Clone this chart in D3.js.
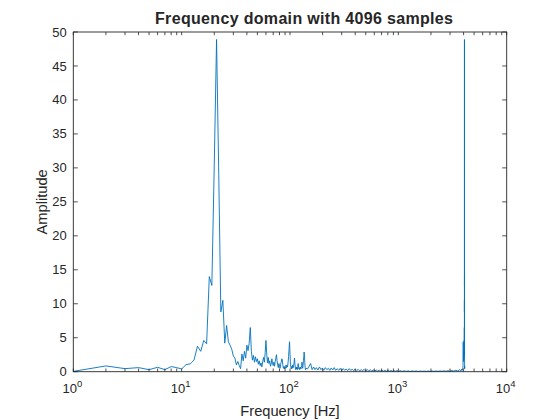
<!DOCTYPE html>
<html>
<head>
<meta charset="utf-8">
<script src="https://cdn.jsdelivr.net/npm/d3@7"></script>
<style>
  html, body { margin: 0; padding: 0; background: #fff; }
  svg { display: block; }
  text { font-family: "Liberation Sans", Arial, Helvetica, sans-serif; fill: #262626; }
</style>
</head>
<body>
<svg id="chart" width="560" height="420"></svg>
<script>
// ---- data ----
const titleText = "Frequency domain with 4096 samples";
const xLabelText = "Frequency [Hz]";
const yLabelText = "Amplitude";

const xTickExponents = [0, 1, 2, 3, 4];
const yTickValues = [0, 5, 10, 15, 20, 25, 30, 35, 40, 45, 50];

// low band: integer frequency bins 1..140 Hz
const freqLow = [1,2,3,4,5,6,7,8,9,10,11,12,13,14,15,16,17,18,19,20,
  21,22,23,24,25,26,27,28,29,30,31,32,33,34,35,36,37,38,39,40,
  41,42,43,44,45,46,47,48,49,50,51,52,53,54,55,56,57,58,59,60,
  61,62,63,64,65,66,67,68,69,70,71,72,73,74,75,76,77,78,79,80,
  81,82,83,84,85,86,87,88,89,90,91,92,93,94,95,96,97,98,99,100,
  101,102,103,104,105,106,107,108,109,110,111,112,113,114,115,116,117,118,119,120,
  121,122,123,124,125,126,127,128,129,130,131,132,133,134,135,136,137,138,139,140];
const ampLow = [0.05,0.85,0.45,0.6,0.3,0.65,0.3,0.75,0.6,0.4,1.05,1.15,1.7,3.75,3.0,4.6,4.1,14.0,12.7,30.5,
  48.9,29.0,8.8,10.5,4.2,6.8,4.4,3.9,3.3,2.3,2.0,1.0,1.5,0.9,0.45,2.6,1.6,3.0,2.0,3.9,
  3.1,4.2,6.5,3.0,1.7,2.4,1.4,2.2,1.5,1.9,1.1,1.6,0.9,1.3,0.7,1.5,2.1,1.4,2.8,4.6,
  2.6,1.3,2.1,1.2,1.6,0.8,1.1,1.9,1.3,0.9,1.4,0.8,1.5,2.0,2.5,1.6,1.0,0.6,1.2,0.8,
  0.5,1.1,1.4,1.9,1.7,0.9,0.5,0.8,0.4,0.7,0.5,1.0,0.6,0.9,0.7,1.4,2.2,3.3,4.4,2.6,
  1.1,0.6,0.4,0.8,0.5,1.0,0.6,0.9,1.3,2.0,1.2,0.5,0.3,0.7,0.4,0.6,0.3,0.8,1.2,0.7,
  0.4,0.6,0.3,0.5,0.7,0.4,0.6,0.9,1.4,0.8,0.5,0.9,1.6,2.2,2.9,2.4,1.3,0.6,0.3,0.5];

// middle band: noise floor 145 Hz .. 3900 Hz
const freqMid = [145,150,155,160,165,170,175,181,187,193,199,205,212,219,226,233,240,248,256,264,
  273,282,291,300,310,320,330,341,352,363,375,387,400,413,426,440,454,469,484,500,
  516,533,550,568,586,605,625,645,666,687,709,732,756,780,805,831,858,886,915,945,
  975,1000,1043,1088,1135,1184,1235,1288,1343,1401,1461,1524,1590,1658,1730,1804,1882,1963,2047,2135,
  2227,2323,2423,2527,2636,2750,2868,2991,3120,3254,3394,3540,3692,3780,3851,3900];
const ampMid = [0.4,0.8,1.2,0.3,0.7,0.3,0.6,0.25,0.7,0.3,0.55,0.2,0.6,0.3,0.5,0.2,0.55,0.25,0.6,0.2,
  0.45,0.2,0.5,0.15,0.45,0.2,0.4,0.15,0.45,0.2,0.35,0.15,0.4,0.15,0.35,0.12,0.3,0.15,0.35,0.1,
  0.3,0.12,0.28,0.1,0.25,0.1,0.25,0.08,0.22,0.1,0.2,0.08,0.2,0.07,0.18,0.08,0.17,0.06,0.15,0.07,
  0.15,0.06,0.14,0.05,0.13,0.05,0.12,0.04,0.12,0.05,0.11,0.04,0.1,0.05,0.1,0.04,0.1,0.05,0.1,0.05,
  0.11,0.05,0.12,0.06,0.13,0.06,0.15,0.07,0.18,0.08,0.22,0.1,0.3,0.12,0.4,0.2];

// high band: mirrored peak near 4075 Hz
const freqHigh = [3940,3955,3970,3985,4000,4015,4030,4045,4055,4062,4066,4069,4071,4072,4073,4074,4075,4076,4077,4078,
  4079,4080,4082,4084,4086,4088,4090,4092,4095];
const ampHigh = [0.6,0.9,4.4,1.5,2.5,1.8,3.0,2.2,4.6,2.4,6.5,3.9,6.8,10.5,8.8,29.0,48.9,30.5,12.7,14.0,
  4.1,4.6,3.0,1.2,0.45,0.7,0.5,0.6,0.85];

// ---- drawing ----
const plotLeft = 73.3, plotRight = 506.7, plotTop = 32, plotBottom = 371.7;
const axisColor = "#262626";
const lineColor = "#0072BD";

const svg = d3.select("#chart");

const x = d3.scaleLog().domain([1, 10000]).range([plotLeft, plotRight]);
const y = d3.scaleLinear().domain([0, 50]).range([plotBottom, plotTop]);

const points = [];
freqLow.forEach((f, i) => points.push([f, ampLow[i]]));
freqMid.forEach((f, i) => points.push([f, ampMid[i]]));
freqHigh.forEach((f, i) => points.push([f, ampHigh[i]]));

svg.append("defs").append("clipPath").attr("id", "clip")
  .append("rect").attr("x", plotLeft).attr("y", plotTop - 1)
  .attr("width", plotRight - plotLeft).attr("height", plotBottom - plotTop + 2);

// spectrum line
svg.append("path")
  .datum(points)
  .attr("clip-path", "url(#clip)")
  .attr("fill", "none")
  .attr("stroke", lineColor)
  .attr("stroke-width", 0.9)
  .attr("stroke-linejoin", "round")
  .attr("d", d3.line().x(d => x(d[0])).y(d => y(d[1])));

// ticks
const majorX = xTickExponents.map(e => Math.pow(10, e));
const minorX = [];
[0, 1, 2, 3].forEach(e => { for (let m = 2; m <= 9; m++) minorX.push(m * Math.pow(10, e)); });
const xTicksAll = majorX.concat(minorX);
const xTickLen = 3.2, yTickLen = 4.5;

const tickG = svg.append("g").attr("stroke", axisColor).attr("stroke-width", 0.8);
xTicksAll.forEach(v => {
  const px = x(v);
  tickG.append("line").attr("x1", px).attr("x2", px).attr("y1", plotBottom).attr("y2", plotBottom - xTickLen);
  tickG.append("line").attr("x1", px).attr("x2", px).attr("y1", plotTop).attr("y2", plotTop + xTickLen);
});
yTickValues.forEach(v => {
  const py = y(v);
  tickG.append("line").attr("x1", plotLeft).attr("x2", plotLeft + yTickLen).attr("y1", py).attr("y2", py);
  tickG.append("line").attr("x1", plotRight).attr("x2", plotRight - yTickLen).attr("y1", py).attr("y2", py);
});

// axes box
svg.append("rect")
  .attr("x", plotLeft).attr("y", plotTop)
  .attr("width", plotRight - plotLeft).attr("height", plotBottom - plotTop)
  .attr("fill", "none").attr("stroke", axisColor).attr("stroke-width", 0.9);

// x tick labels (10^n)
xTickExponents.forEach(e => {
  const t = svg.append("text")
    .attr("x", x(Math.pow(10, e)) - 1)
    .attr("y", 393.3)
    .attr("text-anchor", "middle")
    .attr("font-size", 13);
  t.append("tspan").text("10");
  t.append("tspan").attr("font-size", 9.5).attr("dy", -6.6).text(String(e));
});

// y tick labels
yTickValues.forEach(v => {
  svg.append("text")
    .attr("x", plotLeft - 6.6)
    .attr("y", y(v))
    .attr("dy", "0.35em")
    .attr("text-anchor", "end")
    .attr("font-size", 13)
    .text(String(v));
});

// title
svg.append("text")
  .attr("x", 304)
  .attr("y", 24)
  .attr("text-anchor", "middle")
  .attr("font-size", 16)
  .attr("font-weight", "bold")
  .attr("fill", "#000")
  .attr("textLength", 298)
  .attr("lengthAdjust", "spacing")
  .text(titleText);

// axis labels
svg.append("text")
  .attr("x", (plotLeft + plotRight) / 2)
  .attr("y", 415.5)
  .attr("text-anchor", "middle")
  .attr("font-size", 14.67)
  .text(xLabelText);

svg.append("text")
  .attr("transform", `translate(46.5, ${(plotTop + plotBottom) / 2}) rotate(-90)`)
  .attr("text-anchor", "middle")
  .attr("font-size", 14.67)
  .text(yLabelText);
</script>
</body>
</html>
